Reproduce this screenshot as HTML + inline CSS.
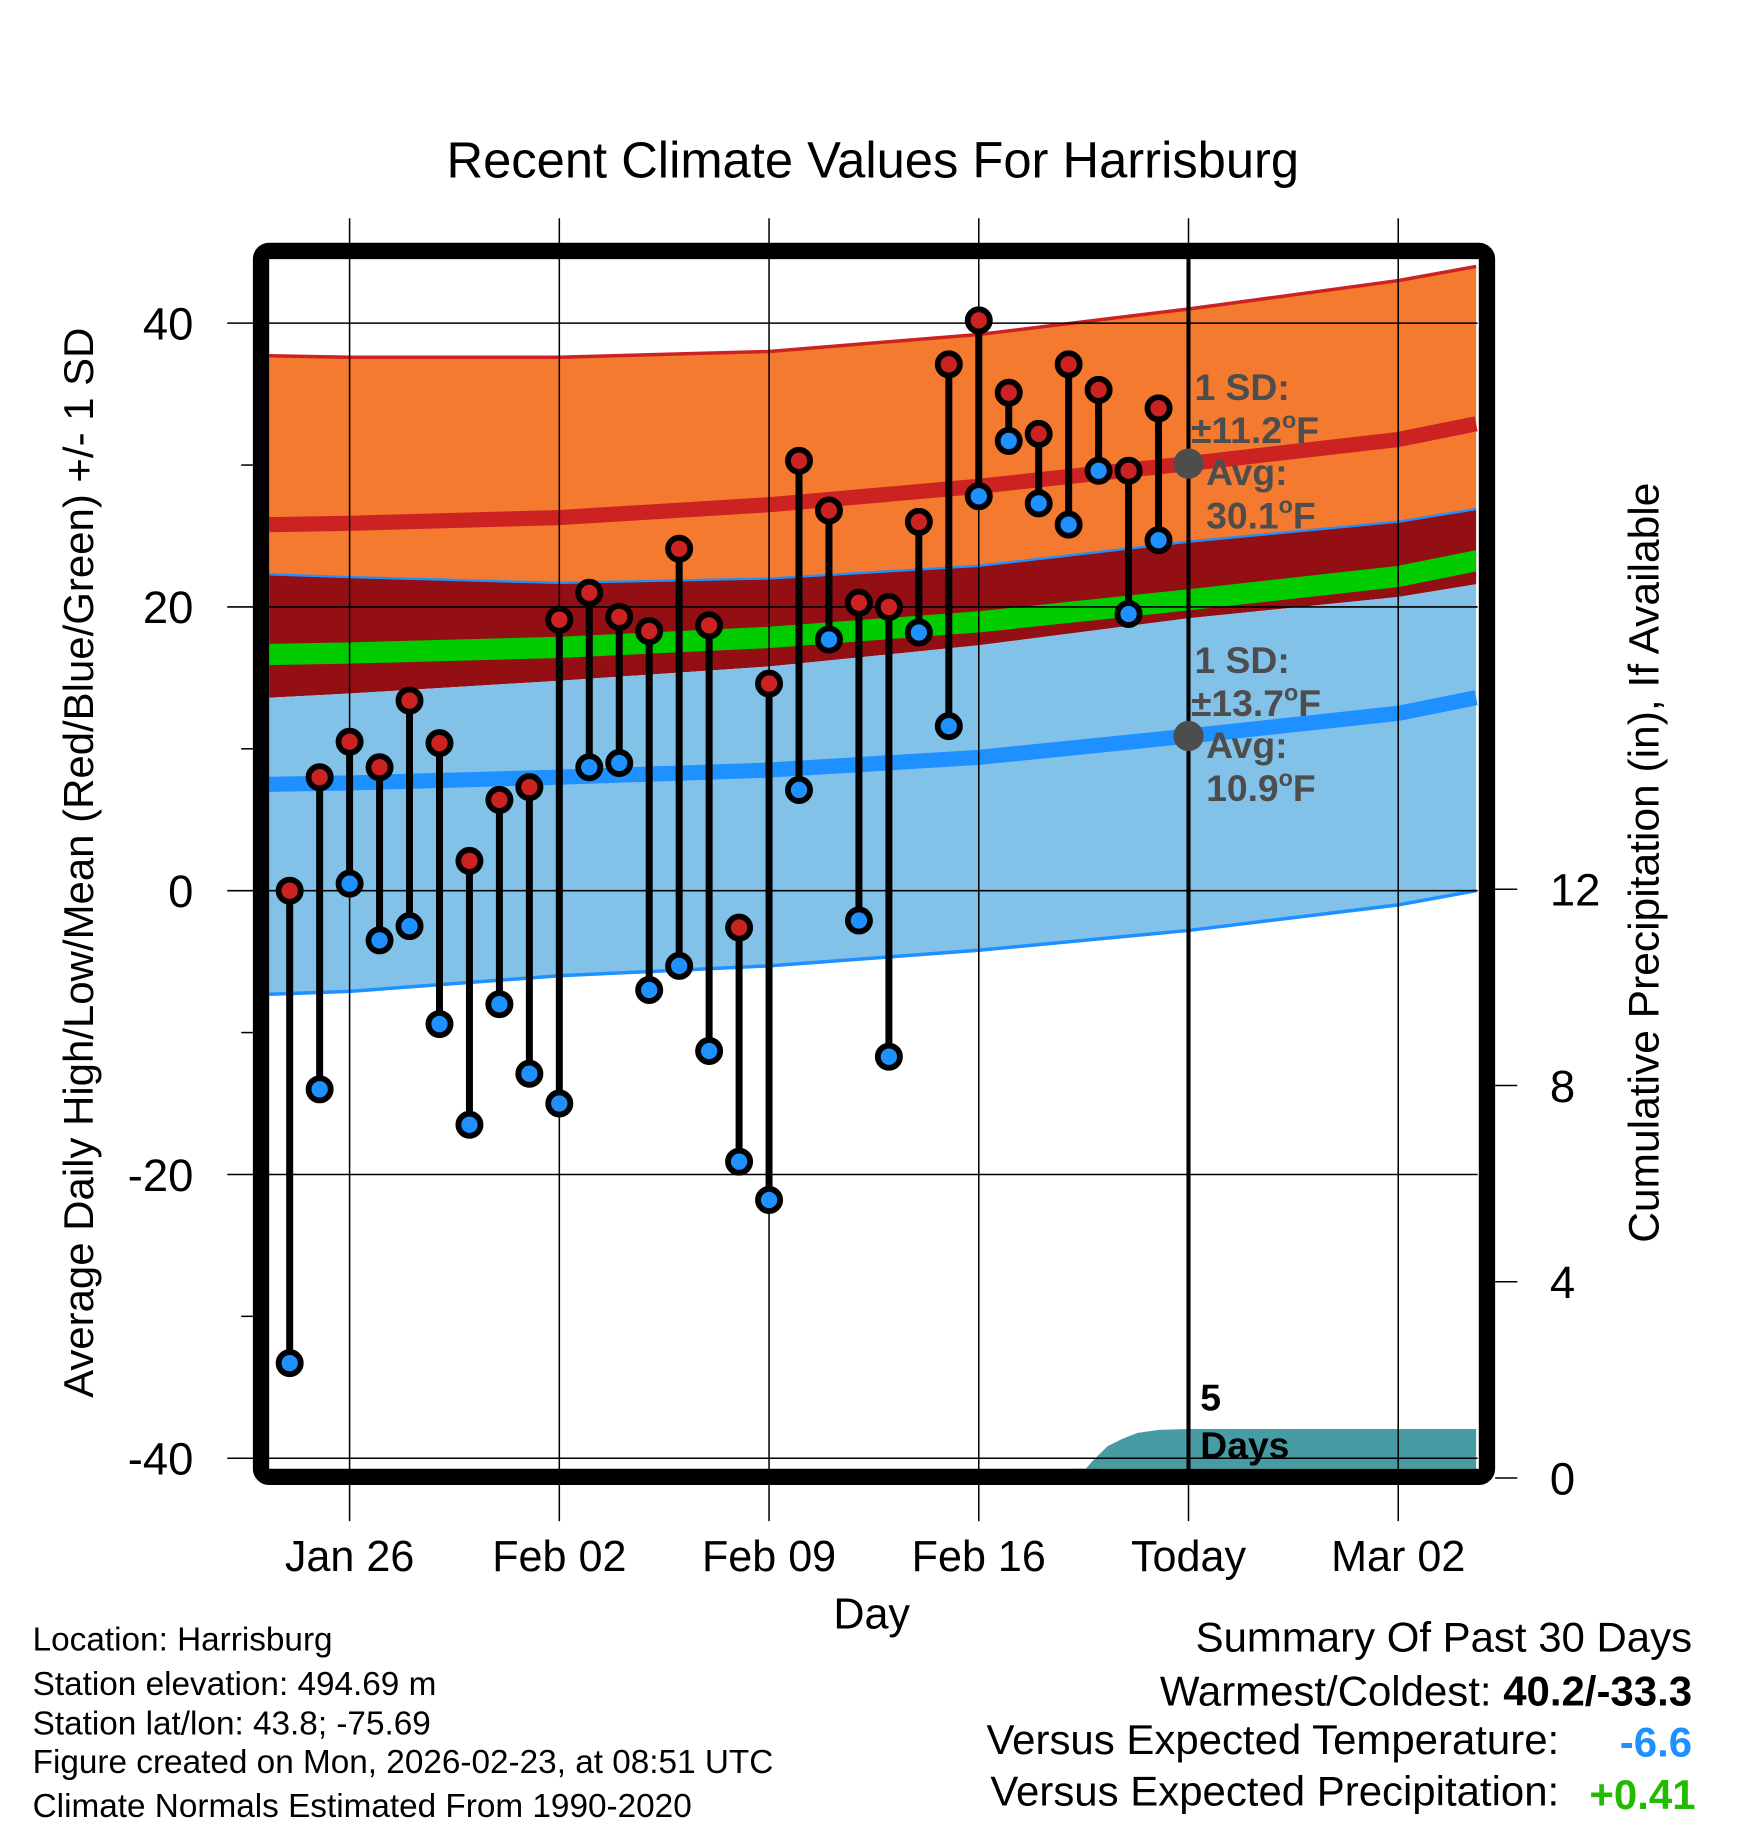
<!DOCTYPE html>
<html><head><meta charset="utf-8"><style>
html,body{margin:0;padding:0;background:#fff}
svg{display:block}
text{font-family:"Liberation Sans",Arial,sans-serif}
</style></head><body>
<svg id="chart" width="1748" height="1828" viewBox="0 0 1500 1568" xmlns="http://www.w3.org/2000/svg">
<g id="bands"></g>
<g id="grid"></g>
<g id="marks"></g>
<g id="frame"></g>
<g id="texts"></g>
</svg>
<script>
// ---- data ----
const dayLabels = ["Jan 26","Feb 02","Feb 09","Feb 16","Today","Mar 02"];
const dayTicks = [0,7,14,21,28,35]; // days since Jan 26
const obsStart = -2; // Jan 24
const highs = [0,8.0,10.5,8.7,13.4,10.4,2.1,6.4,7.3,19.1,21.0,19.3,18.3,24.1,18.7,-2.6,14.6,30.3,26.8,20.3,20.0,26.0,37.1,40.2,35.1,32.2,37.1,35.3,29.6,34.0];
const lows = [-33.3,-14.0,0.5,-3.5,-2.5,-9.4,-16.5,-8.0,-12.9,-15.0,8.7,9.0,-7.0,-5.3,-11.3,-19.1,-21.8,7.1,17.7,-2.1,-11.7,18.2,11.6,27.8,31.7,27.3,25.8,29.6,19.5,24.7];
const normDays = [-2.7,0,7,14,21,28,35,37.6];
const highSDtop = [37.7,37.6,37.6,38.0,39.2,41.0,43.0,44.0];
const highMean = [25.8,25.9,26.3,27.2,28.5,30.1,31.8,32.9];
const highSDbot = [22.3,22.1,21.7,22.0,22.9,24.6,26.0,26.9];
const lowSDtop = [13.6,13.9,14.8,15.8,17.3,19.2,20.7,21.6];
const lowMean = [7.5,7.6,8.0,8.5,9.4,10.9,12.5,13.6];
const lowSDbot = [-7.3,-7.1,-6.0,-5.3,-4.2,-2.8,-1.0,0];
const precipDays = [24.3,24.8,25.3,25.8,26.3,27,28,37.6];
const precipVals = [0,0.35,0.65,0.8,0.92,0.98,1.0,1.0];
const yTicks = [40,20,0,-20,-40];
const yMinor = [30,10,-10,-30];
const pTicks = [0,4,8,12];

// ---- axes ----
const X = d => 300 + d*25.71;
const Y = v => 764 - v*12.175;
const P = v => 1268 - v*42.1;
const L=231,R=1268,T=222,B=1260;
const NS="http://www.w3.org/2000/svg";
function mk(tag,attrs,parent){const e=document.createElementNS(NS,tag);for(const k in attrs)e.setAttribute(k,attrs[k]);parent.appendChild(e);return e;}
const bands=document.getElementById('bands'),grid=document.getElementById('grid'),marks=document.getElementById('marks'),frame=document.getElementById('frame'),texts=document.getElementById('texts');
const cx = d => Math.max(L,Math.min(R,X(d)));
function line(arr){return normDays.map((d,i)=>cx(d).toFixed(1)+','+Y(arr[i]).toFixed(1));}
function area(a,b){return line(a).concat(line(b).reverse()).join(' ');}
const mid = k => (highMean[k]+lowMean[k])/2;
const gTop = normDays.map((d,i)=>mid(i)+0.75), gBot = normDays.map((d,i)=>mid(i)-0.75);
let e;
e=mk('polygon',{points:area(highSDtop,highSDbot),fill:'#f47a2f'},bands);

e=mk('polygon',{points:area(highSDbot,lowSDtop),fill:'#930f13'},bands);

e=mk('polygon',{points:area(lowSDtop,lowSDbot),fill:'#83c2e8'},bands);

e=mk('polygon',{points:area(gTop,gBot),fill:'#00cc00'},bands);

e=mk('polyline',{points:line(highSDtop).join(' '),fill:'none',stroke:'#cc2222',"stroke-width":3},bands);

e=mk('polyline',{points:line(highMean).join(' '),fill:'none',stroke:'#cc2222',"stroke-width":13},bands);

e=mk('polyline',{points:line(highSDbot).join(' '),fill:'none',stroke:'#1e90ff',"stroke-width":2},bands);

e=mk('polyline',{points:line(lowMean).join(' '),fill:'none',stroke:'#1e90ff',"stroke-width":13},bands);

e=mk('polyline',{points:line(lowSDbot).join(' '),fill:'none',stroke:'#1e90ff',"stroke-width":3},bands);

// precip
const pp=precipDays.map((d,i)=>cx(d).toFixed(1)+','+P(precipVals[i]).toFixed(1));
pp.push(cx(precipDays[precipDays.length-1])+','+B, cx(precipDays[0])-4+','+B);
e=mk('polygon',{points:pp.join(' '),fill:'#479ca4'},bands);


// grid
yTicks.forEach(v=>{
  e=mk('line',{x1:195,x2:R,y1:Y(v),y2:Y(v),stroke:'#000','stroke-width':1.3},grid);
  
  e=mk('text',{x:166,y:Y(v)+14,'font-size':39,'text-anchor':'end'},texts);e.textContent=v;
  
});
yMinor.forEach(v=>{e=mk('line',{x1:207,x2:217,y1:Y(v),y2:Y(v),stroke:'#000','stroke-width':1.3},grid);
  });
dayTicks.forEach((d,i)=>{
  e=mk('line',{x1:X(d),x2:X(d),y1:187,y2:1305,stroke:'#000','stroke-width':1.3},grid);
  
  e=mk('text',{x:X(d),y:1348,'font-size':37,'text-anchor':'middle'},texts);e.textContent=dayLabels[i];
  
});
pTicks.forEach(v=>{
  e=mk('line',{x1:1283,x2:1302,y1:P(v),y2:P(v),stroke:'#000','stroke-width':1.3},grid);
  
  e=mk('text',{x:1330,y:P(v)+14,'font-size':39,'text-anchor':'start'},texts);e.textContent=v;
  
});

// marks
highs.forEach((h,i)=>{
  const x=X(obsStart+i);
  e=mk('line',{x1:x,x2:x,y1:Y(h),y2:Y(lows[i]),stroke:'#000','stroke-width':6},marks);
  
  e=mk('circle',{cx:x,cy:Y(h),r:9.5,fill:'#cc2222',stroke:'#000','stroke-width':5},marks);
  
  e=mk('circle',{cx:x,cy:Y(lows[i]),r:9.5,fill:'#1e90ff',stroke:'#000','stroke-width':5},marks);
  
});

// frame and today
e=mk('rect',{x:224,y:215,width:1052,height:1052,rx:7,fill:'none',stroke:'#000','stroke-width':14},frame);

e=mk('line',{x1:X(28),x2:X(28),y1:215,y2:1267,stroke:'#000','stroke-width':3.5},frame);

e=mk('circle',{cx:X(28),cy:Y(highMean[5]),r:13,fill:'#4d4d4d'},frame);

e=mk('circle',{cx:X(28),cy:Y(lowMean[5]),r:13,fill:'#4d4d4d'},frame);

</script>
<svg style="position:absolute;left:0;top:0" width="1748" height="1828" viewBox="0 0 1500 1568" xmlns="http://www.w3.org/2000/svg">
<text x="749" y="152" font-size="43.5" text-anchor="middle">Recent Climate Values For Harrisburg</text>
<text transform="translate(80,740) rotate(-90)" font-size="36" text-anchor="middle">Average Daily High/Low/Mean (Red/Blue/Green) +/- 1 SD</text>
<text transform="translate(1423,740) rotate(-90)" font-size="36.5" text-anchor="middle">Cumulative Precipitation (in), If Available</text>
<text x="748" y="1397" font-size="37" text-anchor="middle">Day</text>
<g font-weight="bold" font-size="32" fill="#4d4d4d">
<text x="1025" y="343">1 SD:</text><text x="1022" y="380">±11.2<tspan font-size="20" dy="-13">o</tspan><tspan dy="13">F</tspan></text>
<text x="1035" y="416">Avg:</text><text x="1035" y="453">30.1<tspan font-size="20" dy="-13">o</tspan><tspan dy="13">F</tspan></text>
</g>
<g font-weight="bold" font-size="32" fill="#4d4d4d">
<text x="1025" y="577">1 SD:</text><text x="1022" y="614">±13.7<tspan font-size="20" dy="-13">o</tspan><tspan dy="13">F</tspan></text>
<text x="1035" y="650">Avg:</text><text x="1035" y="687">10.9<tspan font-size="20" dy="-13">o</tspan><tspan dy="13">F</tspan></text>
</g>
<text x="1030" y="1210" font-size="32" font-weight="bold">5</text>
<text x="1030" y="1251" font-size="32" font-weight="bold">Days</text>
<g font-size="28.6">
<text x="28" y="1416">Location: Harrisburg</text>
<text x="28" y="1454">Station elevation: 494.69 m</text>
<text x="28" y="1488">Station lat/lon: 43.8; -75.69</text>
<text x="28" y="1521">Figure created on Mon, 2026-02-23, at 08:51 UTC</text>
<text x="28" y="1559">Climate Normals Estimated From 1990-2020</text>
</g>
<g font-size="36" text-anchor="end">
<text x="1452" y="1417">Summary Of Past 30 Days</text>
<text x="1452" y="1463">Warmest/Coldest: <tspan font-weight="bold">40.2/-33.3</tspan></text>
<text x="1338" y="1505">Versus Expected Temperature:</text>
<text x="1452" y="1507" font-weight="bold" fill="#1e90ff">-6.6</text>
<text x="1338" y="1549">Versus Expected Precipitation:</text>
<text x="1455" y="1552" font-weight="bold" fill="#22bb00">+0.41</text>
</g>
</svg>
</body></html>
